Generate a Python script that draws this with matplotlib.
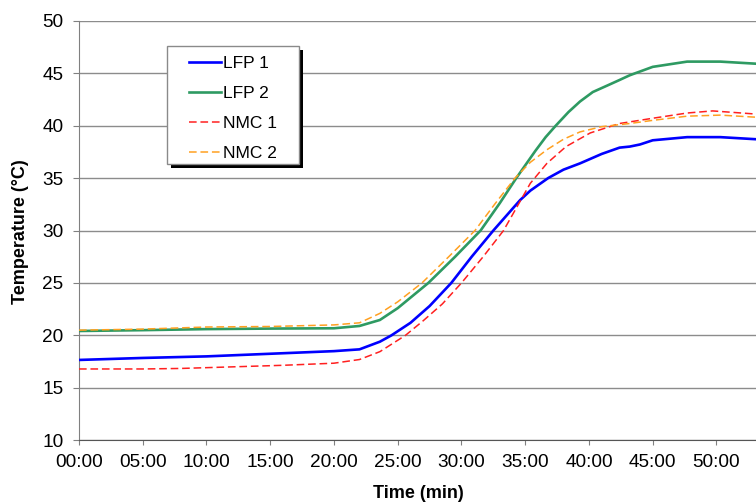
import matplotlib
matplotlib.use("Agg")

import matplotlib.pyplot as plt
from matplotlib.patches import Rectangle

plt.rcParams['font.family'] = ['Liberation Sans', 'DejaVu Sans']

# -------- Data (minutes, degC) --------
lfp1_t = [0, 5, 10, 15, 20, 22, 23.6, 24.5, 26, 27.5, 29.2, 30.8, 32.5, 34.6,
          35.4, 36.8, 38, 39.3, 41, 42.4, 43.2, 44, 45, 47.7, 50.3, 53.1]
lfp1 = [17.66, 17.85, 18.0, 18.25, 18.5, 18.67, 19.4, 20.0, 21.2, 22.8, 25.0,
        27.5, 30.0, 32.9, 33.8, 35.0, 35.8, 36.4, 37.3, 37.9, 38.0, 38.2, 38.6,
        38.9, 38.9, 38.7]

lfp2_t = [0, 5, 10, 15, 20, 22, 23.6, 25, 27.4, 29.5, 31.5, 33, 34.3, 35.8,
          36.6, 37.4, 38.4, 39.3, 40.3, 41.4, 42.4, 43.2, 45, 47.7, 50.3, 53.1]
lfp2 = [20.42, 20.5, 20.6, 20.65, 20.68, 20.9, 21.47, 22.6, 25.0, 27.5, 30.0,
        32.6, 35.0, 37.6, 38.9, 40.0, 41.3, 42.3, 43.2, 43.8, 44.35, 44.8, 45.6,
        46.1, 46.1, 45.9]

nmc1_t = [0, 5, 8, 12, 16, 20, 22, 23.6, 25.6, 27, 28.5, 30, 31.7, 33.3, 35.4,
          36.7, 38.2, 40.1, 42.4, 45, 47.7, 49.7, 53.1]
nmc1 = [16.8, 16.8, 16.85, 17.0, 17.15, 17.35, 17.7, 18.45, 20.0, 21.4, 23.0,
        25.0, 27.5, 30.0, 34.5, 36.4, 38.0, 39.3, 40.2, 40.7, 41.2, 41.4, 41.1]

nmc2_t = [0, 5, 10, 15, 20, 22, 23.6, 25, 26.9, 29, 31.06, 32.6, 34.2, 35.4,
          36.7, 38, 39.3, 41, 43.2, 45, 47.7, 50.3, 53.1]
nmc2 = [20.5, 20.6, 20.8, 20.85, 21.0, 21.2, 22.1, 23.2, 25.0, 27.5, 30.0,
        32.5, 35.0, 36.5, 37.7, 38.7, 39.4, 39.9, 40.2, 40.5, 40.9, 41.0, 40.8]

x_ticks = [0, 5, 10, 15, 20, 25, 30, 35, 40, 45, 50]
x_ticklabels = ['00:00', '05:00', '10:00', '15:00', '20:00', '25:00',
                '30:00', '35:00', '40:00', '45:00', '50:00']
y_ticks = [10, 15, 20, 25, 30, 35, 40, 45, 50]

W, H = 756, 504
fig = plt.figure(figsize=(W / 100, H / 100), dpi=100)
ax = fig.add_axes([79 / W, 1 - 440.3 / H, 677 / W, (440.3 - 20.7) / H])

ax.plot(lfp1_t, lfp1, color='#0000ff', lw=1.9, label='LFP 1', zorder=3)
ax.plot(lfp2_t, lfp2, color='#2e9a62', lw=1.9, label='LFP 2', zorder=3)
ax.plot(nmc1_t, nmc1, color='#ff2020', lw=1.1, dashes=(5, 2.5),
        label='NMC 1', zorder=4)
ax.plot(nmc2_t, nmc2, color='#ffa020', lw=1.1, dashes=(5, 2.5),
        label='NMC 2', zorder=4)

ax.set_xlim(0, 53.1)
ax.set_ylim(10, 50)
ax.set_xticks(x_ticks)
ax.set_xticklabels(x_ticklabels)
ax.set_yticks(y_ticks)
ax.yaxis.grid(True, color='#8c8c8c', lw=1.0)
ax.set_axisbelow(True)

for s in ['top', 'right']:
    ax.spines[s].set_visible(False)
ax.spines['left'].set_color('#808080')
ax.spines['bottom'].set_color('#555555')
ax.tick_params(axis='y', direction='out', length=4.3, color='#808080',
               labelsize=13.7, pad=7)
ax.tick_params(axis='x', direction='out', length=3.6, color='#808080',
               labelsize=13.7, pad=6)

fig.text(20.5 / W, 1 - 231.5 / H, 'Temperature (\u00b0C)', rotation=90,
         ha='center', va='center', fontsize=13, fontweight='bold')
fig.text(418 / W, 1 - 493 / H, 'Time (min)', ha='center', va='center',
         fontsize=13, fontweight='bold')

# legend box with hard black shadow (drawn by hand)
bx0, by0, bx1, by1 = 167, 46, 299, 164
fig.add_artist(Rectangle(((bx0 + 4) / W, 1 - (by1 + 4) / H),
                         (bx1 - bx0) / W, (by1 - by0) / H,
                         transform=fig.transFigure, facecolor='black',
                         edgecolor='none', zorder=3))
fig.add_artist(Rectangle((bx0 / W, 1 - by1 / H), (bx1 - bx0) / W,
                         (by1 - by0) / H, transform=fig.transFigure,
                         facecolor='white', edgecolor='#8a8a8a', lw=1.0,
                         zorder=4))
handles, labels = ax.get_legend_handles_labels()
fig.legend(handles, labels, loc='upper left',
           bbox_to_anchor=(189 / W, 1 - 56 / H), bbox_transform=fig.transFigure,
           frameon=False, fontsize=12.5, handlelength=1.84, handletextpad=0.12,
           labelspacing=0.86, borderpad=0, borderaxespad=0)

fig.savefig('out.png', dpi=100)
